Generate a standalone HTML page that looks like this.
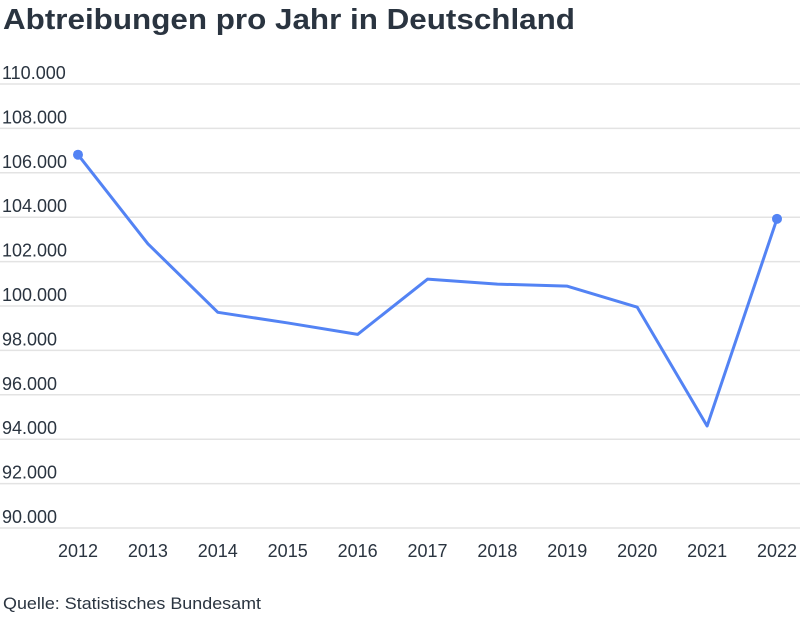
<!DOCTYPE html>
<html><head><meta charset="utf-8"><style>
body{margin:0;background:#fff;width:800px;height:614px;overflow:hidden;font-family:"Liberation Sans",sans-serif;}
</style></head><body>
<svg width="800" height="614">
<text x="3" y="29" font-size="29" font-weight="bold" fill="#2a3440" textLength="572" lengthAdjust="spacingAndGlyphs">Abtreibungen pro Jahr in Deutschland</text>
<g id="grid"></g><g id="xl"></g>
<path id="line" fill="none" stroke="#5383f4" stroke-width="3" stroke-linejoin="round"/>
<g id="dots"></g>
<text x="3" y="609" font-size="17" fill="#2a3440" textLength="258" lengthAdjust="spacingAndGlyphs">Quelle: Statistisches Bundesamt</text>
</svg>
<script>
const years=[2012,2013,2014,2015,2016,2017,2018,2019,2020,2021,2022];
const values=[106815,102802,99715,99237,98721,101209,100986,100893,99948,94596,103927];
const ticks=[90000,92000,94000,96000,98000,100000,102000,104000,106000,108000,110000];
const tickLabels=["90.000","92.000","94.000","96.000","98.000","100.000","102.000","104.000","106.000","108.000","110.000"];
const NS="http://www.w3.org/2000/svg";
const y=v=>528-(v-90000)/20000*444;
const x=i=>78+i*(777-78)/(years.length-1);
const grid=document.getElementById('grid');
ticks.forEach((t,i)=>{
 const l=document.createElementNS(NS,'line');
 
 
 l.setAttribute('x1',0);l.setAttribute('x2',800);l.setAttribute('y1',y(t));l.setAttribute('y2',y(t));
 l.setAttribute('stroke','#e3e3e3');l.setAttribute('stroke-width','1.5');grid.appendChild(l);
 const tx=document.createElementNS(NS,'text');
 
 
 tx.setAttribute('x',2);tx.setAttribute('y',y(t)-5);tx.setAttribute('font-size','18');tx.setAttribute('fill','#2a3440');
 tx.textContent=tickLabels[i];grid.appendChild(tx);
});
const xl=document.getElementById('xl');
years.forEach((yr,i)=>{
 const tx=document.createElementNS(NS,'text');
 
 
 tx.setAttribute('x',x(i));tx.setAttribute('y',557);tx.setAttribute('font-size','18');tx.setAttribute('fill','#2a3440');tx.setAttribute('text-anchor','middle');
 tx.textContent=yr;xl.appendChild(tx);
});
document.getElementById('line').setAttribute('d',values.map((v,i)=>(i?'L':'M')+x(i)+','+y(v)).join(' '));
const dots=document.getElementById('dots');
[0,values.length-1].forEach(i=>{
 const c=document.createElementNS(NS,'circle');
 
 
 c.setAttribute('cx',x(i));c.setAttribute('cy',y(values[i]));c.setAttribute('r',5);c.setAttribute('fill','#5383f4');dots.appendChild(c);
});
</script>
</body></html>
